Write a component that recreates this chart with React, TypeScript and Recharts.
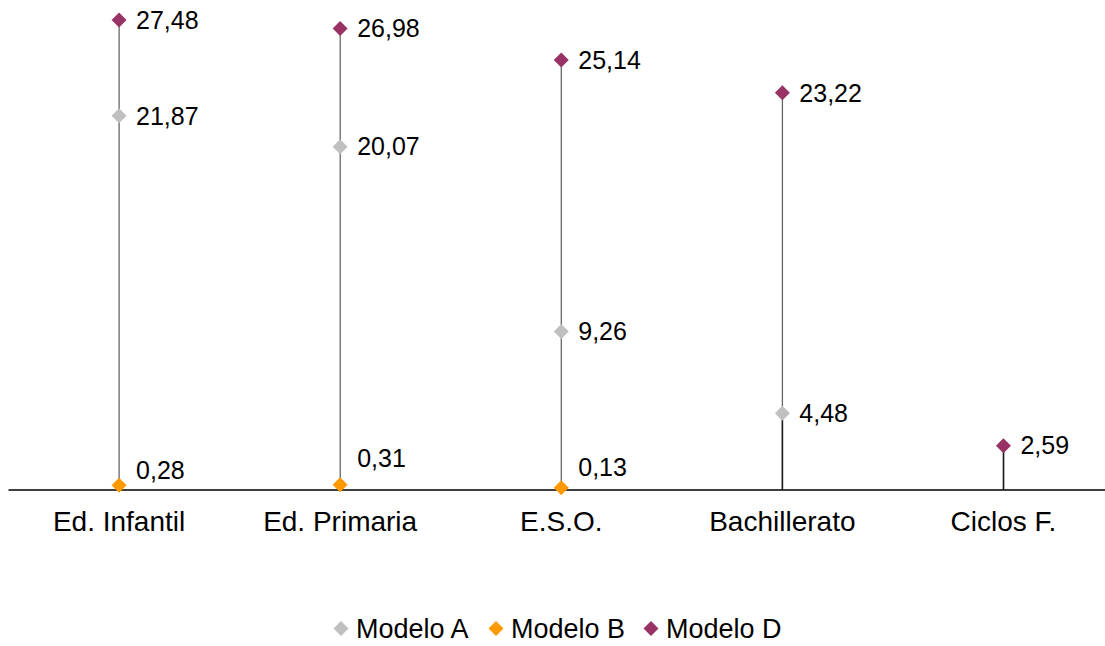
import { ComposedChart, Bar, Line, XAxis, YAxis, Legend, LabelList } from "recharts"

const categories = ["Ed. Infantil", "Ed. Primaria", "E.S.O.", "Bachillerato", "Ciclos F."]
const modeloA = [21.87, 20.07, 9.26, 4.48, null]
const modeloB = [0.28, 0.31, 0.13, null, null]
const modeloD = [27.48, 26.98, 25.14, 23.22, 2.59]

const SERIES = [
  { key: "A", name: "Modelo A", color: "#c0c0c0" },
  { key: "B", name: "Modelo B", color: "#ff9900" },
  { key: "D", name: "Modelo D", color: "#993366" },
]

// Modelo B labels sit a bit above their markers (manually placed in the original)
const LIFT_B = [-15, -26, -21]

const FONT = "'Liberation Sans', Arial, sans-serif"

const data = categories.map((cat, i) => {
  const vals = [modeloA[i], modeloB[i], modeloD[i]].filter((v) => v != null) as number[]
  const top = Math.max(...vals)
  // where there's no Modelo B marker, the segment under the lowest marker looks darker
  const low = modeloB[i] == null && vals.length ? Math.min(...vals) : null
  return { cat, A: modeloA[i], B: modeloB[i], D: modeloD[i], top, low }
})

const fmt = (v: number) => v.toFixed(2).replace(".", ",")

function DropLine(props: any) {
  const { x, y, width, height, payload } = props
  if (height == null || !payload) return null
  const cx = x + width / 2
  const bottom = y + height
  const low = payload.low
  const lowY = low != null ? bottom - (low * height) / payload.top : null
  return (
    <g>
      <line x1={cx} x2={cx} y1={y} y2={bottom} stroke="#666" strokeWidth={1.3} />
      {lowY != null && <line x1={cx} x2={cx} y1={lowY} y2={bottom} stroke="#1a1a1a" strokeWidth={1.5} />}
    </g>
  )
}

const diamond = (color: string) => (props: any) => {
  const { cx, cy, value, index } = props
  if (value == null || cx == null || cy == null) return <g key={index} />
  const r = 7.5
  return (
    <path
      key={index}
      d={`M${cx},${cy - r}L${cx + r},${cy}L${cx},${cy + r}L${cx - r},${cy}Z`}
      fill={color}
    />
  )
}

const valueLabel = (key: string) => (props: any) => {
  const { x, y, value, index } = props
  if (value == null) return null
  const dy = key === "B" ? LIFT_B[index] ?? 0 : 0
  return (
    <text
      x={x + 17}
      y={y + dy}
      dy="0.35em"
      fontSize={25}
      fontFamily={FONT}
      fill="#000"
    >
      {fmt(value)}
    </text>
  )
}

// legend drawn as svg so it doesn't overflow the bottom edge
function LegendContent() {
  const itemW = 155
  const start = 341
  return (
    <svg width={1105} height={30} style={{ display: "block" }}>
      {SERIES.map((s, i) => {
        const cx = start + i * itemW
        return (
          <g key={s.key}>
            <path d={`M${cx},9L${cx + 7.5},16.5L${cx},24L${cx - 7.5},16.5Z`} fill={s.color} />
            <text x={cx + 15} y={25.5} fontSize={27} fontFamily={FONT} fill="#000">
              {s.name}
            </text>
          </g>
        )
      })}
    </svg>
  )
}

export default function App() {
  return (
    <div style={{ position: "absolute", left: 0, top: 0, width: 1105, height: 646, overflow: "hidden", background: "#fff" }}>
      <ComposedChart
        width={1114}
        height={646}
        data={data}
        margin={{ top: 11, right: 0, left: 8.5, bottom: 126 }}
      >
        <XAxis
          dataKey="cat"
          height={30}
          tickLine={false}
          axisLine={{ stroke: "#000", strokeWidth: 1.5 }}
          tickMargin={15}
          tick={{ fontSize: 28, fontFamily: FONT, fill: "#000" }}
          interval={0}
        />
        <YAxis hide domain={[0, 28]} />
        <Legend
          verticalAlign="middle"
          align="center"
          layout="horizontal"
          content={<LegendContent />}
          wrapperStyle={{ top: 612, left: 0, width: 1105, height: 30 }}
        />
        <Bar dataKey="top" shape={<DropLine />} isAnimationActive={false} legendType="none" />
        {SERIES.map((s) => (
          <Line
            key={s.key}
            dataKey={s.key}
            name={s.name}
            stroke="none"
            dot={diamond(s.color)}
            activeDot={false}
            isAnimationActive={false}
          >
            <LabelList dataKey={s.key} content={valueLabel(s.key)} />
          </Line>
        ))}
      </ComposedChart>
    </div>
  )
}
